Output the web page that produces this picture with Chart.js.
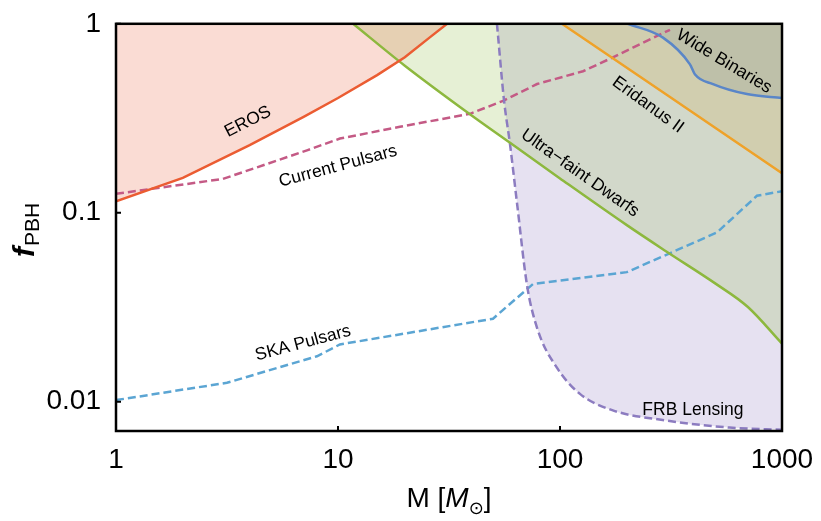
<!DOCTYPE html>
<html>
<head>
<meta charset="utf-8">
<script src="https://cdn.jsdelivr.net/npm/chart.js@4.4.1/dist/chart.umd.min.js"></script>
<style>
  html, body { margin: 0; padding: 0; background: #fff; }
  #wrap { width: 821px; height: 521px; }
</style>
</head>
<body>
<div id="wrap"><canvas id="chart" width="821" height="521"></canvas></div>
<script>
// tick labels
const xTicks = [1, 10, 100, 1000];
const yTicks = [0.01, 0.1, 1];

// EROS
const erosM = [1, 2, 4, 7, 10, 15, 20, 26, 31];
const erosF = [0.115, 0.153, 0.228, 0.322, 0.405, 0.535, 0.665, 0.85, 1.0];

// Ultra-faint dwarfs
const ufdM = [11.7, 20, 40, 60, 100, 200, 300, 500, 700, 1000];
const ufdF = [1.0, 0.60, 0.327, 0.233, 0.152, 0.086, 0.0626, 0.0423, 0.0318, 0.0203];

// FRB lensing
const frbM = [52, 56, 59.5, 64, 71, 79, 97, 123, 173, 290, 580, 1000];
const frbF = [1.0, 0.39, 0.232, 0.113, 0.0415, 0.0244, 0.0151, 0.0110, 0.0090, 0.0080, 0.0073, 0.0071];

// Eridanus II
const eriM = [102, 300, 1000];
const eriF = [1.0, 0.424, 0.162];

// Wide binaries
const wbM = [202, 291, 385, 405, 489, 695, 1000];
const wbF = [1.0, 0.845, 0.61, 0.541, 0.48, 0.425, 0.405];

// Current pulsars
const cpM = [1, 3.03, 7.25, 10.2, 19, 39.3, 55.4, 78.8, 127, 173, 213, 313];
const cpF = [0.126, 0.151, 0.214, 0.247, 0.285, 0.334, 0.391, 0.48, 0.561, 0.664, 0.749, 0.93];

// SKA pulsars
const skaM = [1, 3.16, 8.04, 10.2, 49.9, 75.6, 200, 509, 771, 1000];
const skaF = [0.0102, 0.0126, 0.0174, 0.0201, 0.0275, 0.042, 0.0485, 0.0786, 0.123, 0.130];

// curve labels: text, M, f, angle (deg)
const labelText = ['EROS', 'Current Pulsars', 'Ultra\u2212faint Dwarfs', 'Eridanus II', 'Wide Binaries', 'SKA Pulsars', 'FRB Lensing'];
const labelM = [3.93, 10, 123, 249, 548, 6.96, 397];
const labelF = [0.303, 0.176, 0.162, 0.372, 0.632, 0.0204, 0.00897];
const labelAngle = [-27, -15, 35, 36, 31, -15, 0];

const FAM = '"Liberation Sans", Arial, sans-serif';

const pts = (ms, fs) => ms.map((m, i) => ({ x: m, y: fs[i] }));

const curve = (label, ms, fs, color, fillColor, dash, tension) => ({
  label,
  data: pts(ms, fs),
  showLine: true,
  borderColor: color,
  backgroundColor: fillColor,
  fill: fillColor ? 'end' : false,
  borderWidth: 2.5,
  borderDash: dash || [],
  pointRadius: 0,
  tension: tension || 0,
  cubicInterpolationMode: tension ? 'monotone' : 'default'
});

const decorations = {
  id: 'decorations',
  afterDatasetsDraw(chart) {
    const { ctx, chartArea: a, scales: { x, y } } = chart;
    ctx.save();

    // curve labels
    ctx.fillStyle = '#000';
    ctx.font = '17.5px ' + FAM;
    ctx.textAlign = 'center';
    ctx.textBaseline = 'middle';
    labelText.forEach((t, i) => {
      ctx.save();
      ctx.translate(x.getPixelForValue(labelM[i]), y.getPixelForValue(labelF[i]));
      ctx.rotate(labelAngle[i] * Math.PI / 180);
      ctx.fillText(t, 0, 0);
      ctx.restore();
    });

    // frame
    ctx.strokeStyle = '#000';
    ctx.lineWidth = 2.5;
    ctx.strokeRect(a.left, a.top, a.right - a.left, a.bottom - a.top);

    // inward ticks
    ctx.lineWidth = 2;
    ctx.beginPath();
    xTicks.forEach(v => {
      const px = x.getPixelForValue(v);
      ctx.moveTo(px, a.bottom);
      ctx.lineTo(px, a.bottom - 5);
    });
    yTicks.forEach(v => {
      const py = y.getPixelForValue(v);
      ctx.moveTo(a.left, py);
      ctx.lineTo(a.left + 5, py);
    });
    ctx.stroke();

    // x title: M [M_sun]
    const cx = (a.left + a.right) / 2;
    const ty = 507;
    const parts = [
      { t: 'M [', f: '28px ' + FAM, dy: 0 },
      { t: 'M', f: 'italic 28px ' + FAM, dy: 0 },
      { t: '\u2299', f: '18px "DejaVu Sans", sans-serif', dy: 7 },
      { t: ']', f: '28px ' + FAM, dy: 0 }
    ];
    let total = 0;
    parts.forEach(p => { ctx.font = p.f; p.w = ctx.measureText(p.t).width; total += p.w; });
    let px = cx - total / 2;
    ctx.textAlign = 'left';
    ctx.textBaseline = 'alphabetic';
    parts.forEach(p => { ctx.font = p.f; ctx.fillText(p.t, px, ty + p.dy); px += p.w; });

    // y title: f_PBH
    ctx.save();
    ctx.translate(34, (a.top + a.bottom) / 2 + 3);
    ctx.rotate(-Math.PI / 2);
    ctx.font = 'bold italic 30px ' + FAM;
    const fw = ctx.measureText('f').width;
    ctx.font = '21px ' + FAM;
    const sw = ctx.measureText('PBH').width;
    const start = -(fw + sw) / 2;
    ctx.font = 'bold italic 30px ' + FAM;
    ctx.fillText('f', start, 0);
    ctx.font = '21px ' + FAM;
    ctx.fillText('PBH', start + fw + 1, 5);
    ctx.restore();

    ctx.restore();
  }
};

new Chart(document.getElementById('chart'), {
  type: 'scatter',
  data: {
    datasets: [
      curve('EROS', erosM, erosF, '#EB5C32', 'rgba(232,96,60,0.22)'),
      curve('Ultra-faint Dwarfs', ufdM, ufdF, '#8DB83E', 'rgba(138,184,58,0.21)', null, 0.3),
      curve('FRB Lensing', frbM, frbF, '#8C7CC0', 'rgba(140,120,190,0.22)', [8, 4], 0.4),
      curve('Eridanus II', eriM, eriF, '#EFA229', 'rgba(240,160,32,0.2)'),
      curve('Wide Binaries', wbM, wbF, '#5A86C8', 'rgba(80,130,200,0.2)', null, 0.4),
      curve('Current Pulsars', cpM, cpF, '#C45A85', null, [8, 4]),
      curve('SKA Pulsars', skaM, skaF, '#5BA5D3', null, [8, 4])
    ]
  },
  options: {
    responsive: false,
    animation: false,
    devicePixelRatio: 1,
    layout: { padding: { left: 0, right: 39, top: 19, bottom: 0 } },
    plugins: {
      legend: { display: false },
      tooltip: { enabled: false },
      filler: { drawTime: 'beforeDatasetsDraw' }
    },
    scales: {
      x: {
        type: 'logarithmic',
        min: 1,
        max: 1000,
        grid: { display: false },
        border: { display: false },
        afterBuildTicks: s => { s.ticks = xTicks.map(v => ({ value: v })); },
        afterFit: s => { s.height = 90; },
        ticks: {
          color: '#000',
          padding: 4,
          font: { family: FAM, size: 28 },
          callback: v => String(v),
          maxRotation: 0,
          autoSkip: false
        }
      },
      y: {
        type: 'logarithmic',
        min: 0.007,
        max: 1,
        grid: { display: false },
        border: { display: false },
        afterBuildTicks: s => { s.ticks = yTicks.map(v => ({ value: v })); },
        afterFit: s => { s.width = 116; },
        ticks: {
          color: '#000',
          padding: 7,
          font: { family: FAM, size: 28 },
          callback: v => String(v),
          autoSkip: false
        }
      }
    }
  },
  plugins: [decorations]
});
</script>
</body>
</html>
